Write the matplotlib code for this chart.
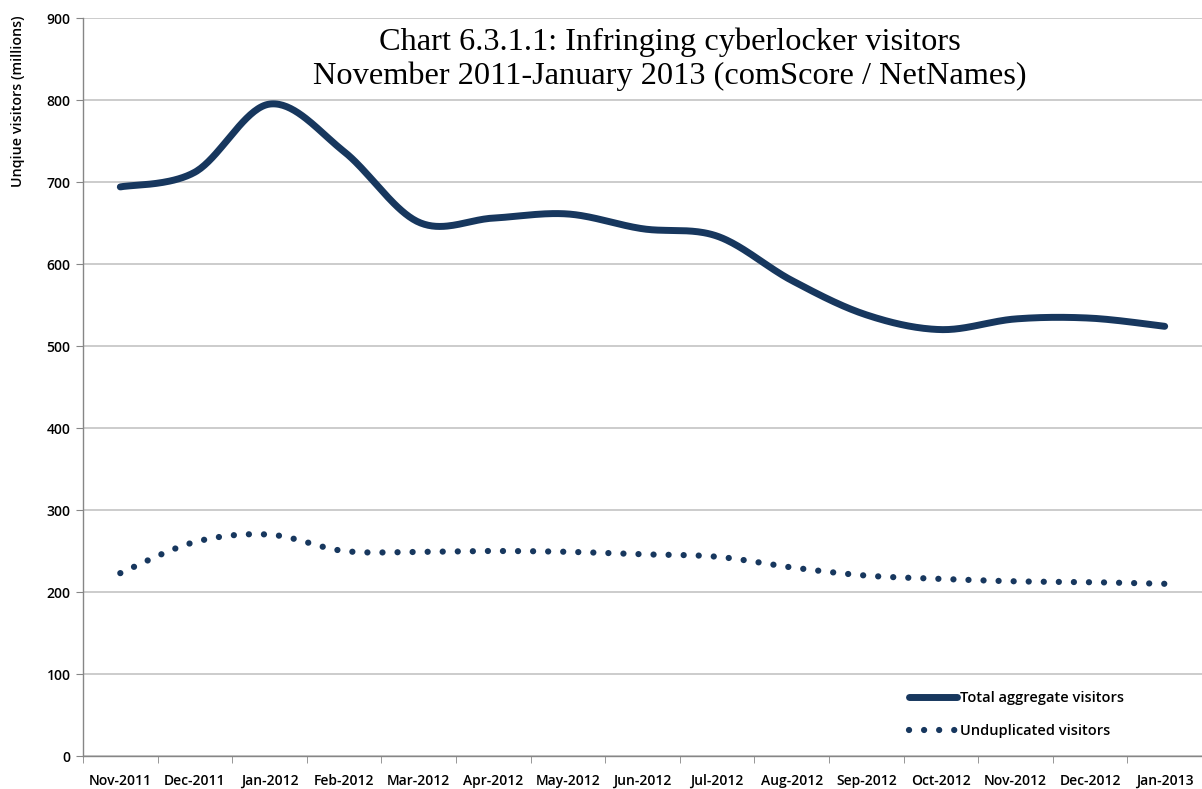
import numpy as np
import matplotlib.pyplot as plt
from matplotlib.lines import Line2D

months = ['Nov-2011', 'Dec-2011', 'Jan-2012', 'Feb-2012', 'Mar-2012', 'Apr-2012', 'May-2012',
          'Jun-2012', 'Jul-2012', 'Aug-2012', 'Sep-2012', 'Oct-2012', 'Nov-2012', 'Dec-2012', 'Jan-2013']
total_visitors = [694, 712, 795, 737, 651, 656, 661, 643, 634, 580, 538, 520, 533, 534, 524]
unduplicated_visitors = [223, 261, 270, 250, 249, 250, 249, 246, 243, 230, 220, 216, 213, 212, 210]

NAVY = '#17375E'
GRID = '#BFBFBF'
SANS = ['Open Sans', 'DejaVu Sans']
SERIF = ['Liberation Serif', 'DejaVu Serif']


def smooth(values, steps=40):
    # spreadsheet-style smoothing: Catmull-Rom segments as cubic Beziers
    y = np.asarray(values, dtype=float)
    x = np.arange(len(y), dtype=float)
    px = np.concatenate([[x[0]], x, [x[-1]]])
    py = np.concatenate([[y[0]], y, [y[-1]]])
    t = np.linspace(0, 1, steps)
    xs, ys = [], []
    for i in range(len(y) - 1):
        p0 = np.array([px[i], py[i]])
        p1 = np.array([px[i + 1], py[i + 1]])
        p2 = np.array([px[i + 2], py[i + 2]])
        p3 = np.array([px[i + 3], py[i + 3]])
        c1 = p1 + (p2 - p0) / 6
        c2 = p2 - (p3 - p1) / 6
        pts = ((1 - t)[:, None] ** 3 * p1 + 3 * ((1 - t) ** 2 * t)[:, None] * c1
               + 3 * ((1 - t) * t ** 2)[:, None] * c2 + (t ** 3)[:, None] * p2)
        xs.extend(pts[:, 0] if i == 0 else pts[1:, 0])
        ys.extend(pts[:, 1] if i == 0 else pts[1:, 1])
    return np.array(xs), np.array(ys)


fig = plt.figure(figsize=(12.02, 7.89), dpi=100)
ax = fig.add_axes([83 / 1202, 1 - 756 / 789, 1 - 83 / 1202, 738 / 789])

solid_style = dict(color=NAVY, linewidth=5.0, solid_capstyle='round', solid_joinstyle='round')
dot_style = dict(color=NAVY, linewidth=4.5, linestyle=(0, (0.01, 2.4)), dash_capstyle='round')

tx, ty = smooth(total_visitors)
ux, uy = smooth(unduplicated_visitors)
ax.plot(tx, ty, zorder=3, **solid_style)
ax.plot(ux, uy, zorder=3, **dot_style)

ax.set_xlim(-0.5, len(months) - 0.5)
ax.set_ylim(0, 900)
ax.set_yticks(range(0, 901, 100))
ax.yaxis.grid(True, color=GRID, linewidth=1.1)
ax.set_axisbelow(True)

ax.set_xticks(np.arange(len(months)))
ax.set_xticklabels(months)
ax.set_xticks(np.arange(len(months) + 1) - 0.5, minor=True)
ax.tick_params(axis='x', which='major', length=0, pad=13)
ax.tick_params(axis='x', which='minor', length=5, color='#868686', direction='out')
ax.tick_params(axis='y', length=5, color='#868686', direction='out', pad=4)
for lbl in ax.get_xticklabels() + ax.get_yticklabels():
    lbl.set_family(SANS)
    lbl.set_fontsize(10)
    lbl.set_fontweight('semibold')

for side in ('top', 'right'):
    ax.spines[side].set_visible(False)
for side in ('left', 'bottom'):
    ax.spines[side].set_color('#868686')
    ax.spines[side].set_linewidth(1.0)

fig.text(18 / 1202, 1 - 101 / 789, 'Unqiue visitors (millions)', rotation=90, ha='center', va='center',
         family=SANS, fontsize=10.3, fontweight='semibold')

fig.text(670 / 1202, 1 - 42 / 789, 'Chart 6.3.1.1: Infringing cyberlocker visitors',
         ha='center', va='center', family=SERIF, fontsize=23.3)
fig.text(670 / 1202, 1 - 76 / 789, 'November 2011-January 2013 (comScore / NetNames)',
         ha='center', va='center', family=SERIF, fontsize=23.3)

handles = [Line2D([], [], **solid_style), Line2D([], [], **dot_style)]
ax.legend(handles, ['Total aggregate visitors', 'Unduplicated visitors'],
          loc='lower left', bbox_to_anchor=(896 / 1202, 1 - 751 / 789), bbox_transform=fig.transFigure,
          frameon=False, handlelength=3.3, handletextpad=0.2, labelspacing=1.3,
          prop={'family': SANS, 'size': 10.5, 'weight': 'semibold'})

fig.savefig('out.png', dpi=100)
